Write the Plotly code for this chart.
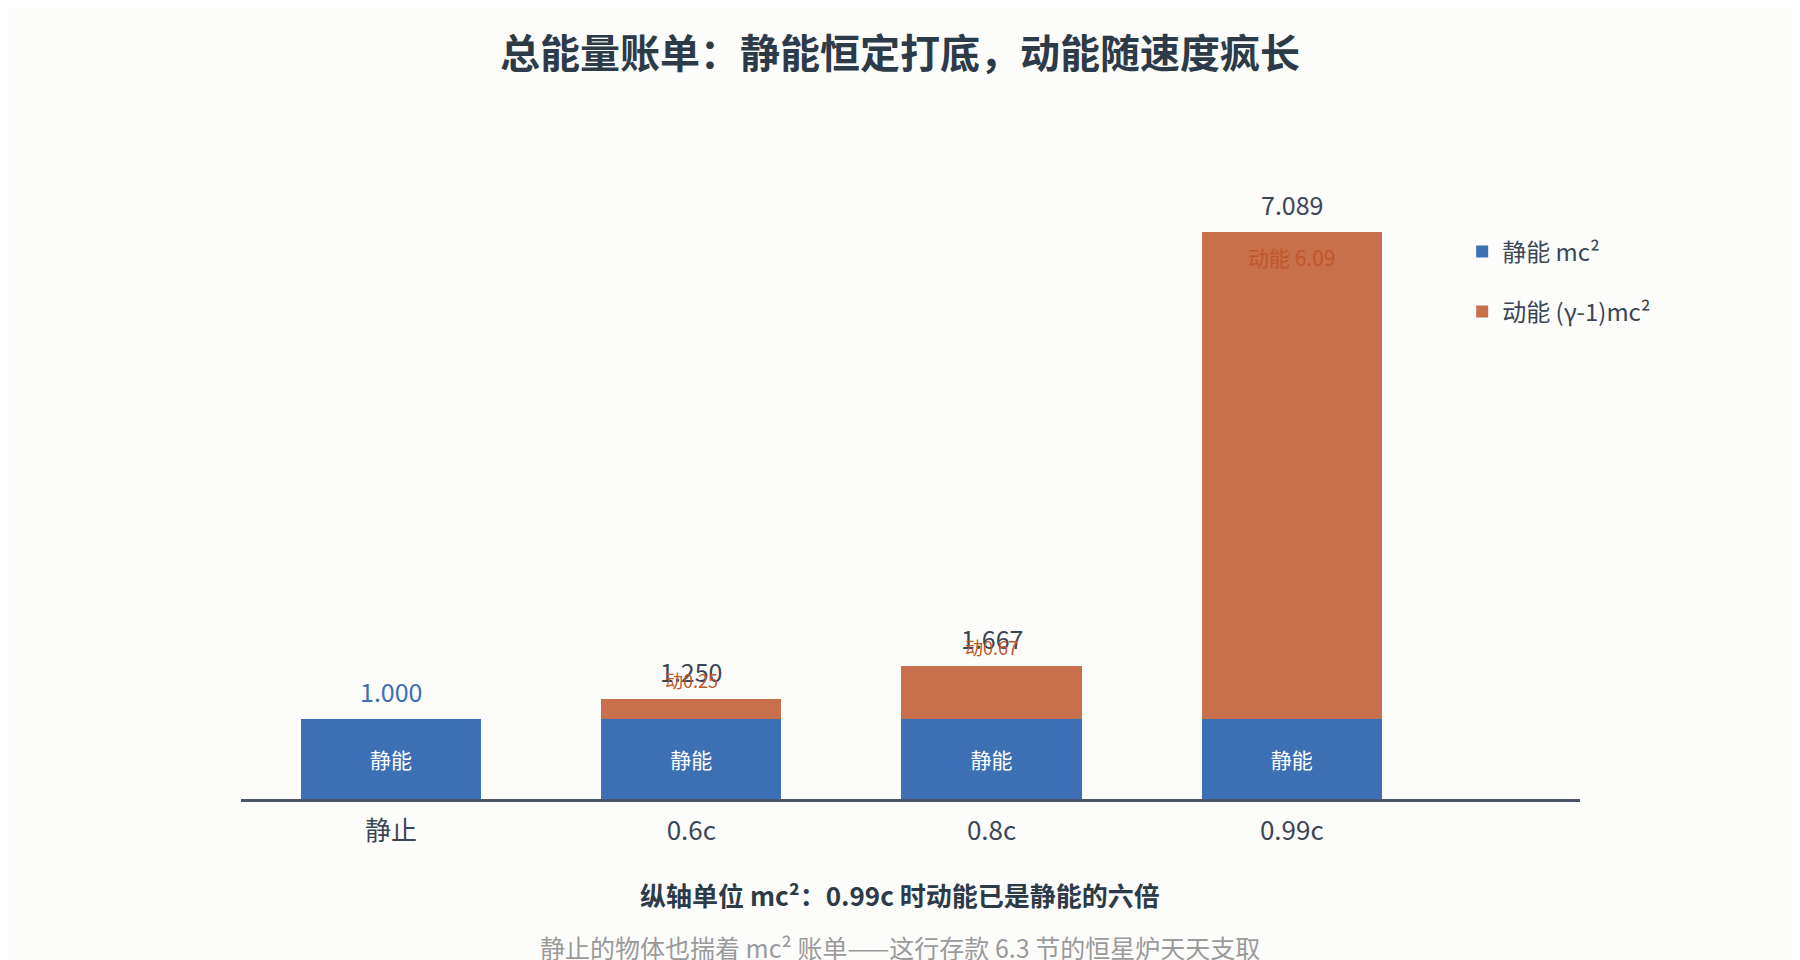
import plotly.graph_objects as go

#%% data
categories = ['静止', '0.6c', '0.8c', '0.99c']
rest_energy = [1.0, 1.0, 1.0, 1.0]
kinetic_energy = [0.0, 0.25, 0.667, 6.089]
total_energy = [1.000, 1.250, 1.667, 7.089]
rest_labels = ['静能', '静能', '静能', '静能']
kinetic_labels = ['', '动0.25', '动0.67', '动能 6.09']

title_text = '总能量账单：静能恒定打底，动能随速度疯长'
note_text = '纵轴单位 mc²：0.99c 时动能已是静能的六倍'
source_text = '静止的物体也揣着 mc² 账单——这行存款 6.3 节的恒星炉天天支取'

#%% colours
BLUE = '#3d6fb4'
ORANGE = '#c8704c'
ORANGE_TXT = '#c2552c'
DARK = '#2d3a48'
FONT = 'Noto Sans CJK SC'

fig = go.Figure()
fig.add_trace(go.Bar(x=categories, y=rest_energy, name='静能 mc²',
                     marker=dict(color=BLUE, line=dict(width=0)),
                     text=rest_labels, textposition='inside',
                     insidetextanchor='middle',
                     textfont=dict(color='white', size=21, family=FONT),
                     legendgroup='a', width=0.6))
fig.add_trace(go.Bar(x=categories, y=kinetic_energy, name='动能 (γ-1)mc²',
                     marker=dict(color=ORANGE, line=dict(width=0)),
                     legendgroup='b', width=0.6))

#%% labels on top of the bars
for i, cat in enumerate(categories):
    col = BLUE if kinetic_energy[i] == 0 else '#3a4656'
    fig.add_annotation(x=cat, y=total_energy[i], text='%.3f' % total_energy[i],
                       showarrow=False, yanchor='bottom', yshift=8,
                       font=dict(size=25, color=col, family=FONT))
    if kinetic_labels[i]:
        if kinetic_energy[i] > 1:
            # big bar: label sits inside, near the top
            fig.add_annotation(x=cat, y=total_energy[i], text=kinetic_labels[i],
                               showarrow=False, yanchor='top', yshift=-8,
                               font=dict(size=21, color=ORANGE_TXT, family=FONT))
        else:
            fig.add_annotation(x=cat, y=total_energy[i], text=kinetic_labels[i],
                               showarrow=False, yanchor='bottom', yshift=4,
                               font=dict(size=18, color=ORANGE_TXT, family=FONT))

fig.add_annotation(text='<b>' + note_text + '</b>', xref='paper', yref='paper',
                   x=0.492, y=-0.153, showarrow=False, yanchor='middle',
                   font=dict(size=26, color=DARK, family=FONT))
fig.add_annotation(text=source_text, xref='paper', yref='paper',
                   x=0.492, y=-0.237, showarrow=False, yanchor='middle',
                   font=dict(size=25, color='#9a9a9a', family=FONT))

fig.update_layout(
    width=1800, height=960,
    barmode='stack',
    paper_bgcolor='#fcfcfa', plot_bgcolor='#fcfcfa',
    font=dict(family=FONT, color=DARK),
    title=dict(text='<b>' + title_text + '</b>', x=0.4956, xanchor='center',
               y=0.952, yanchor='middle',
               font=dict(size=40, color=DARK, family=FONT)),
    margin=dict(l=233, r=228, t=167, b=169),
    legend=dict(x=0.912, y=0.913, xanchor='left', yanchor='top',
                traceorder='grouped', tracegroupgap=26,
                font=dict(size=24, color='#3a4656', family=FONT),
                bgcolor='rgba(0,0,0,0)'),
    showlegend=True,
)
fig.update_xaxes(range=[-0.5, 3.96], showline=True, linecolor='#4a5568',
                 linewidth=3, showgrid=False, zeroline=False,
                 ticks='outside', ticklen=7, tickcolor='rgba(0,0,0,0)',
                 tickfont=dict(size=26, color='#3a4656', family=FONT))
fig.update_yaxes(range=[0, 7.8], visible=False, showgrid=False, zeroline=False)

fig.write_html('out.html')
